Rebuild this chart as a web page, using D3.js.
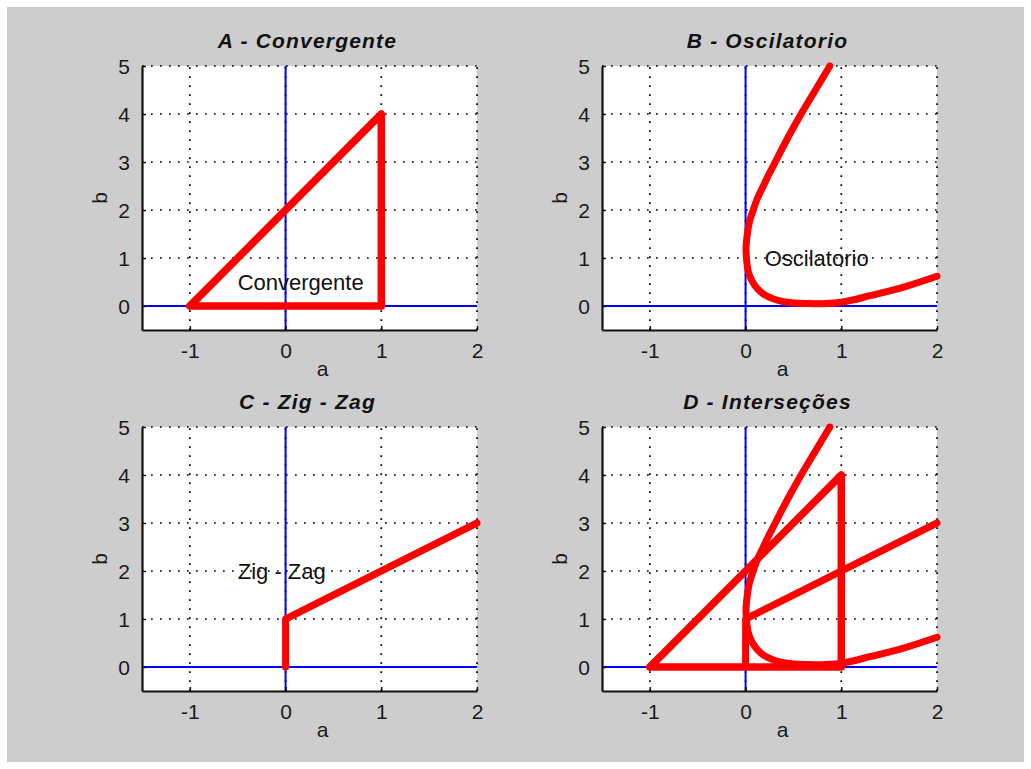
<!DOCTYPE html>
<html>
<head>
<meta charset="utf-8">
<script src="https://cdn.jsdelivr.net/npm/d3@7/dist/d3.min.js"></script>
<style>
  html, body { margin: 0; padding: 0; background: #ffffff; }
  svg { display: block; }
</style>
</head>
<body>
<svg id="fig" width="1031" height="769"></svg>
<script>
// Parameter regions in the (a, b) plane

// Convergent region: triangle outline
const convA = [-1, 1, 1, -1];
const convB = [0, 4, 0, 0];

// Oscillatory boundary (upper branch down to the fold, then lower branch)
const oscA = [0.88, 0.73, 0.58, 0.44, 0.31, 0.245, 0.185, 0.125, 0.08, 0.04, 0.012, 0.005, 0.04, 0.16, 0.37, 0.65, 1.00, 1.31, 1.66, 2.00];
const oscB = [5.00, 4.50, 4.00, 3.50, 3.00, 2.75, 2.50, 2.25, 2.00, 1.75, 1.40, 1.13, 0.64, 0.29, 0.10, 0.05, 0.08, 0.22, 0.40, 0.62];

// Zig-zag boundary
const zigA = [0, 0, 2];
const zigB = [0, 1, 3];

const xTicks = [-1, 0, 1, 2];
const yTicks = [0, 1, 2, 3, 4, 5];
const xDomain = [-1.5, 2];
const yDomain = [-0.5, 5];

const titles = ["A - Convergente", "B - Oscilatorio", "C - Zig - Zag", "D - Interseções"];

const svg = d3.select("#fig");
const FONT = "'Liberation Sans', Arial, Helvetica, sans-serif";

// figure background
svg.append("rect").attr("x", 7).attr("y", 7).attr("width", 1017).attr("height", 755).attr("fill", "#cdcdcd");

const zip = (xs, ys) => xs.map((x, i) => [x, ys[i]]);

const conv = { pts: zip(convA, convB), curve: d3.curveLinear, w: 7.5 };
const osc = { pts: zip(oscA, oscB), curve: d3.curveCatmullRom.alpha(0.5), w: 7 };
const zig = { pts: zip(zigA, zigB), curve: d3.curveLinear, w: 7 };

const panels = [
  { left: 142, top: 66, title: titles[0], series: [conv], note: { a: -0.5, b: 0.5, text: "Convergente" } },
  { left: 602, top: 66, title: titles[1], series: [osc], note: { a: 0.2, b: 1, text: "Oscilatorio" } },
  { left: 142, top: 427, title: titles[2], series: [zig], note: { a: -0.5, b: 2, text: "Zig - Zag" } },
  { left: 602, top: 427, title: titles[3], series: [conv, osc, zig], note: null }
];

const W = 335, H = 264;
const tickFmt = d => String(d);   // plain hyphen-minus for negatives

panels.forEach((p, i) => {
  const g = svg.append("g").attr("transform", `translate(${p.left},${p.top})`);
  const x = d3.scaleLinear().domain(xDomain).range([0, W]);
  const y = d3.scaleLinear().domain(yDomain).range([H, 0]);

  // plot area
  g.append("rect").attr("width", W).attr("height", H).attr("fill", "#ffffff");

  // dotted grid
  const grid = g.append("g").attr("stroke", "#000").attr("stroke-width", 1.7)
    .attr("stroke-dasharray", "1.7 7.3").attr("fill", "none");
  xTicks.forEach(t => grid.append("line")
    .attr("x1", x(t)).attr("x2", x(t)).attr("y1", H).attr("y2", 0));
  yTicks.forEach(t => grid.append("line")
    .attr("x1", 0).attr("x2", W).attr("y1", y(t)).attr("y2", y(t)));

  // coordinate axes through the origin
  g.append("line").attr("x1", x(0)).attr("x2", x(0)).attr("y1", 0).attr("y2", H)
    .attr("stroke", "#0000ff").attr("stroke-width", 2);
  g.append("line").attr("x1", 0).attr("x2", W).attr("y1", y(0)).attr("y2", y(0))
    .attr("stroke", "#0000ff").attr("stroke-width", 2);

  // region boundaries
  p.series.forEach(s => {
    const line = d3.line().x(d => x(d[0])).y(d => y(d[1])).curve(s.curve);
    g.append("path").attr("d", line(s.pts)).attr("fill", "none")
      .attr("stroke", "#ff0000").attr("stroke-width", s.w)
      .attr("stroke-linejoin", "round").attr("stroke-linecap", "round");
  });

  // annotation
  if (p.note) {
    g.append("text").attr("x", x(p.note.a)).attr("y", y(p.note.b) + 8)
      .attr("font-family", FONT).attr("font-size", 22).attr("fill", "#111")
      .text(p.note.text);
  }

  // axes (left and bottom) with inward ticks
  const xAxis = d3.axisBottom(x).tickValues(xTicks).tickSizeInner(-4).tickSizeOuter(0).tickPadding(12)
    .tickFormat(tickFmt);
  const yAxis = d3.axisLeft(y).tickValues(yTicks).tickSizeInner(-4).tickSizeOuter(0).tickPadding(12)
    .tickFormat(tickFmt);

  const gx = g.append("g").attr("transform", `translate(0,${H})`).call(xAxis);
  const gy = g.append("g").call(yAxis);
  [gx, gy].forEach(ax => {
    ax.select(".domain").attr("stroke", "#111").attr("stroke-width", 2.2);
    ax.selectAll(".tick line").attr("stroke", "#111").attr("stroke-width", 1.5);
    ax.selectAll(".tick text").attr("font-family", FONT).attr("font-size", 21).attr("fill", "#1a1a1a");
  });
  gx.selectAll(".tick text").attr("dy", "0.78em");
  gy.selectAll(".tick text").attr("dy", "0.36em");

  // axis labels
  g.append("text").attr("x", W / 2 + 13).attr("y", H + 46)
    .attr("text-anchor", "middle").attr("font-family", FONT).attr("font-size", 21).attr("fill", "#1a1a1a")
    .text("a");
  g.append("text").attr("transform", `translate(-35,${H / 2}) rotate(-90)`)
    .attr("text-anchor", "middle").attr("font-family", FONT).attr("font-size", 21).attr("fill", "#1a1a1a")
    .text("b");

  // title
  g.append("text").attr("x", W / 2 - 2).attr("y", -18)
    .attr("text-anchor", "middle").attr("font-family", FONT).attr("font-size", 21)
    .attr("font-weight", "bold").attr("font-style", "italic").attr("letter-spacing", 1.2)
    .attr("fill", "#111").text(p.title);
});
</script>
</body>
</html>
